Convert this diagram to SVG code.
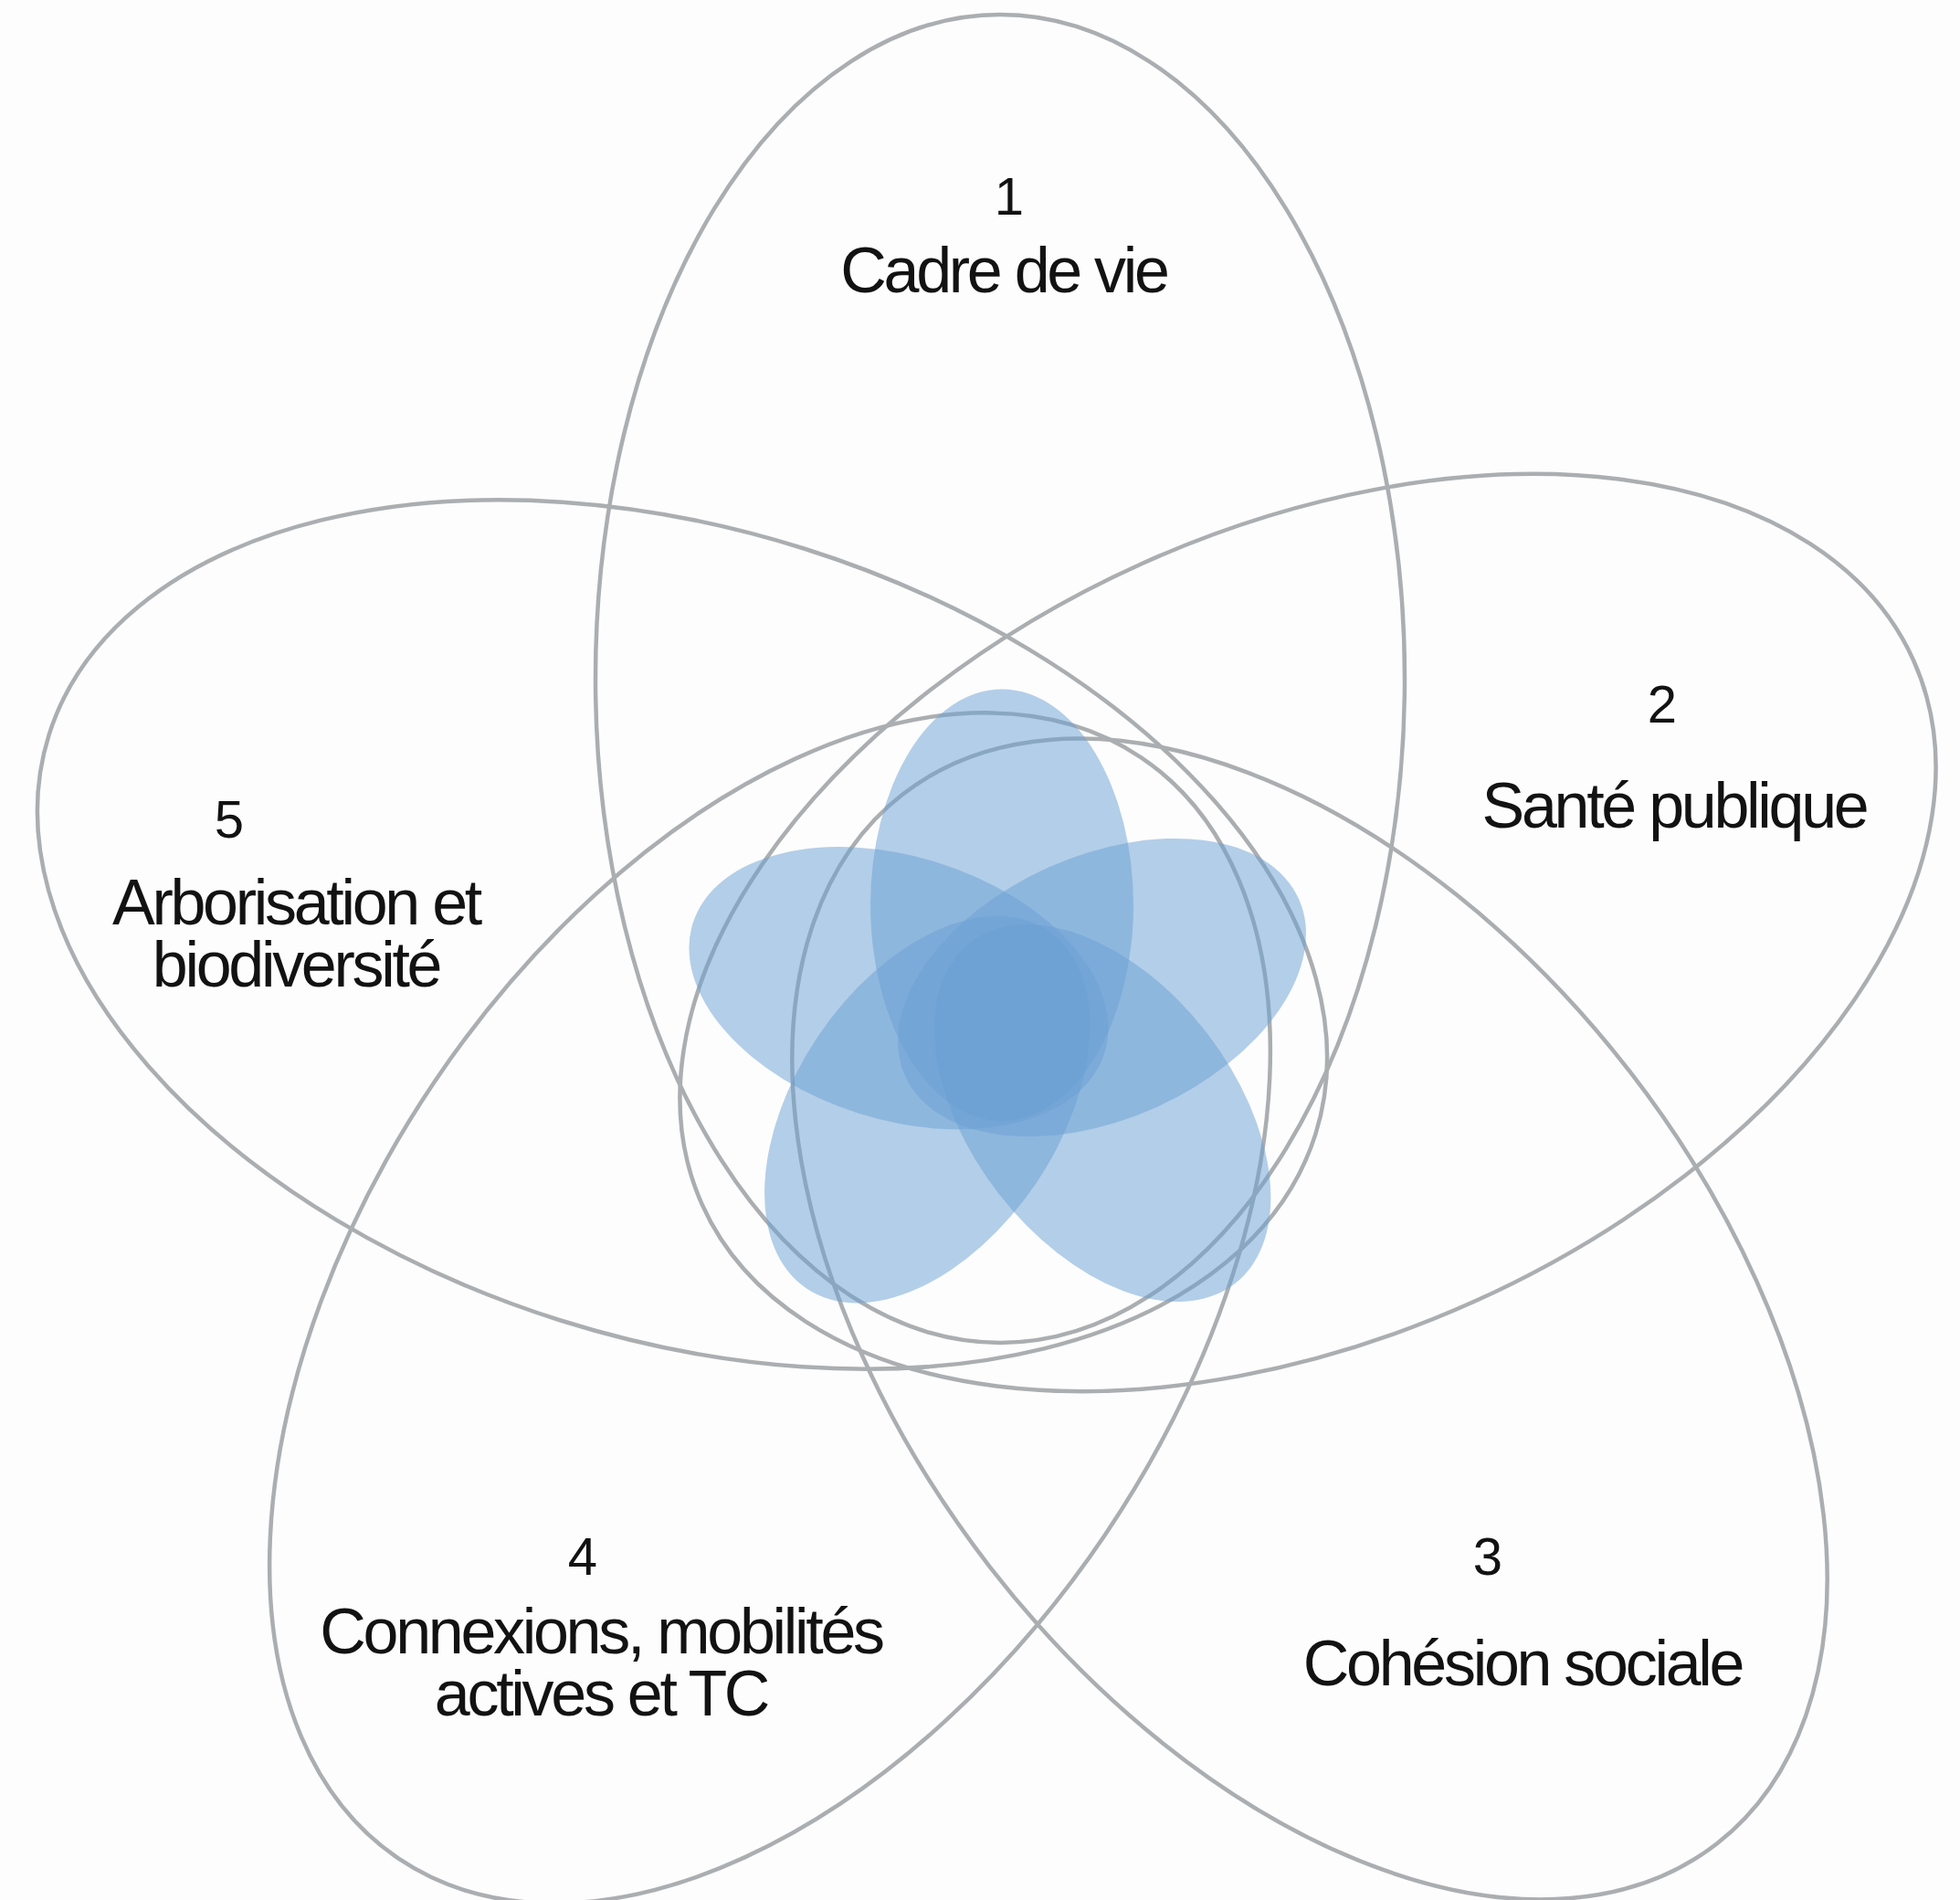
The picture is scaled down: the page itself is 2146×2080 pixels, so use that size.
<svg xmlns="http://www.w3.org/2000/svg" width="2146" height="2080" viewBox="0 0 2146 2080">
<style>
.ring{fill:none;stroke:#abaeb1;stroke-width:4.5}
.petal{fill:#6a9fd4;fill-opacity:0.5}
.lbl{font-family:"Liberation Sans",Arial,Helvetica,sans-serif;font-size:70px;letter-spacing:-3.3px;fill:#121212;text-anchor:middle}
.num{font-family:"Liberation Sans",Arial,Helvetica,sans-serif;font-size:58px;fill:#121212;text-anchor:middle}
</style>
<rect x="0" y="0" width="2146" height="2080" fill="#fdfdfd"/>
<g id="node-1">
<ellipse class="ring" cx="1095" cy="743" rx="443" ry="727"/>
<text class="num" x="1105" y="235">1</text>
<text class="lbl" x="1099" y="320">Cadre de vie</text>
</g>
<g id="node-2">
<ellipse class="ring" cx="1432" cy="1021" rx="443" ry="727" transform="rotate(65.8 1432 1021)"/>
<text class="num" x="1820" y="791">2</text>
<text class="lbl" x="1833" y="906">Santé publique</text>
</g>
<g id="node-3">
<ellipse class="ring" cx="1434" cy="1444" rx="443" ry="727" transform="rotate(142.2 1434 1444)"/>
<text class="num" x="1629" y="1724">3</text>
<text class="lbl" x="1667" y="1845">Cohésion sociale</text>
</g>
<g id="node-4">
<ellipse class="ring" cx="843" cy="1432" rx="443" ry="727" transform="rotate(-146 843 1432)"/>
<text class="num" x="638" y="1724">4</text>
<text class="lbl" x="658" y="1810">Connexions, mobilités<tspan x="658" dy="68">actives et TC</tspan></text>
</g>
<g id="node-5">
<ellipse class="ring" cx="747" cy="1023" rx="443" ry="727" transform="rotate(-72.5 747 1023)"/>
<text class="num" x="251" y="917">5</text>
<text class="lbl" x="324" y="1012">Arborisation et<tspan x="324" dy="68">biodiversité</tspan></text>
</g>
<g id="flower" transform="matrix(0.325 0 0 0.325 741.15 749.25)">
<ellipse class="petal" cx="1095" cy="743" rx="443" ry="727"/>
<ellipse class="petal" cx="1432" cy="1021" rx="443" ry="727" transform="rotate(65.8 1432 1021)"/>
<ellipse class="petal" cx="1434" cy="1444" rx="443" ry="727" transform="rotate(142.2 1434 1444)"/>
<ellipse class="petal" cx="843" cy="1432" rx="443" ry="727" transform="rotate(-146 843 1432)"/>
<ellipse class="petal" cx="747" cy="1023" rx="443" ry="727" transform="rotate(-72.5 747 1023)"/>
</g>
<g id="connectors"/>
</svg>
